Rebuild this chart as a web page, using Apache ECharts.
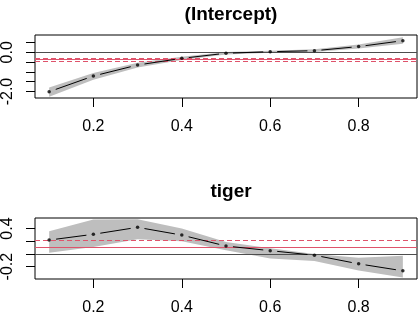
<!DOCTYPE html>
<html>
<head>
<meta charset="utf-8">
<script src="https://cdn.jsdelivr.net/npm/echarts@6/dist/echarts.min.js"></script>
<style>
html,body{margin:0;padding:0;background:#fff;}
#chart{width:418px;height:317px;}
</style>
</head>
<body>
<div id="chart"></div>
<script>
// quantiles
const taus = [0.1, 0.2, 0.3, 0.4, 0.5, 0.6, 0.7, 0.8, 0.9];
// (Intercept) panel
const interceptEst = [-2.01, -1.21, -0.65, -0.31, -0.05, 0.03, 0.08, 0.29, 0.59];
const interceptLo  = [-2.26, -1.40, -0.78, -0.40, -0.11, -0.02, 0.01, 0.19, 0.43];
const interceptHi  = [-1.79, -1.06, -0.53, -0.23, 0.01, 0.08, 0.15, 0.39, 0.76];
const interceptOls = [-0.375, -0.31, -0.44]; // estimate, lower, upper
// tiger panel
const tigerEst = [0.219, 0.31, 0.42, 0.297, 0.125, 0.052, -0.02, -0.156, -0.266];
const tigerLo  = [0.02, 0.11, 0.23, 0.20, 0.06, -0.07, -0.11, -0.26, -0.37];
const tigerHi  = [0.36, 0.545, 0.547, 0.40, 0.19, 0.09, 0.0, -0.06, -0.03];
const tigerOls = [0.10, -0.003, 0.215];
// tick values
const xTicks = [0.2, 0.4, 0.6, 0.8];
const yTicksTop = [-2, -1.5, -1, -0.5, 0, 0.5];
const yLabelsTop = [-2, 0];
const yTicksBot = [-0.2, 0, 0.2, 0.4];
const yLabelsBot = [-0.2, 0.4];
const titles = ['(Intercept)', 'tiger'];

const RED = '#DF536B';
const FONT = 'Liberation Sans, Arial, sans-serif';

function xAxis(gi) {
  return {
    type: 'value', gridIndex: gi, min: 0.068, max: 0.932,
    axisLine: {show: false, onZero: false},
    splitLine: {show: false},
    axisTick: {show: true, inside: false, length: 9, customValues: xTicks, lineStyle: {color: '#000', width: 1}},
    axisLabel: {show: true, customValues: xTicks, margin: 21, fontSize: 16, color: '#000', fontFamily: FONT,
      formatter: v => v.toFixed(1)}
  };
}
function yAxis(gi, min, max, ticks, labels) {
  return {
    type: 'value', gridIndex: gi, min: min, max: max,
    axisLine: {show: false, onZero: false},
    splitLine: {show: false},
    axisTick: {show: true, inside: false, length: 9, customValues: ticks, lineStyle: {color: '#000', width: 1}},
    axisLabel: {show: true, customValues: labels, rotate: 90, margin: 19, fontSize: 16, color: '#000', fontFamily: FONT,
      formatter: v => v.toFixed(1)}
  };
}

function bandRender(params, api) {
  if (params.dataIndexInside !== 0) return null;
  const n = params.dataInsideLength;
  const upper = [], lower = [];
  for (let i = 0; i < n; i++) {
    lower.push(api.coord([api.value(0, i), api.value(1, i)]));
    upper.push(api.coord([api.value(0, i), api.value(2, i)]));
  }
  return {
    type: 'polygon',
    shape: {points: lower.concat(upper.reverse())},
    style: {fill: '#BEBEBE', stroke: null}
  };
}

function segRender(params, api) {
  const p1 = api.coord([api.value(0), api.value(1)]);
  const p2 = api.coord([api.value(2), api.value(3)]);
  const dx = p2[0] - p1[0], dy = p2[1] - p1[1];
  const len = Math.sqrt(dx * dx + dy * dy);
  const gap = 7;
  if (len <= 2 * gap) return null;
  const ux = dx / len, uy = dy / len;
  return {
    type: 'line',
    shape: {x1: p1[0] + ux * gap, y1: p1[1] + uy * gap, x2: p2[0] - ux * gap, y2: p2[1] - uy * gap},
    style: {stroke: '#000', lineWidth: 1}
  };
}

function panelSeries(gi, est, lo, hi, ols) {
  const seg = [];
  for (let i = 0; i < taus.length - 1; i++) seg.push([taus[i], est[i], taus[i + 1], est[i + 1]]);
  return [
    {
      type: 'custom', xAxisIndex: gi, yAxisIndex: gi, silent: true, animation: false, z: 1,
      data: taus.map((t, i) => [t, lo[i], hi[i]]),
      encode: {x: 0, y: [1, 2]},
      renderItem: bandRender
    },
    {
      type: 'line', xAxisIndex: gi, yAxisIndex: gi, data: [], silent: true, z: 3, animation: false,
      markLine: {
        silent: true, symbol: 'none', animation: false, label: {show: false},
        data: [
          {yAxis: ols[0], lineStyle: {color: RED, type: 'solid', width: 1}},
          {yAxis: ols[1], lineStyle: {color: RED, type: [5, 3], width: 1}},
          {yAxis: ols[2], lineStyle: {color: RED, type: [5, 3], width: 1}}
        ]
      }
    },
    {
      type: 'line', xAxisIndex: gi, yAxisIndex: gi, data: [], silent: true, z: 4, animation: false,
      markLine: {
        silent: true, symbol: 'none', animation: false, label: {show: false},
        data: [{yAxis: 0, lineStyle: {color: '#4D4D4D', type: 'solid', width: 1}}]
      }
    },
    {
      type: 'custom', xAxisIndex: gi, yAxisIndex: gi, data: seg, renderItem: segRender,
      encode: {x: [0, 2], y: [1, 3]}, z: 5, silent: true, animation: false
    },
    {
      type: 'scatter', xAxisIndex: gi, yAxisIndex: gi, data: taus.map((t, i) => [t, est[i]]),
      symbol: 'circle', symbolSize: 3.5, itemStyle: {color: '#000'}, z: 6, silent: true, animation: false
    }
  ];
}

const chart = echarts.init(document.getElementById('chart'), null, {renderer: 'canvas'});
chart.setOption({
  backgroundColor: '#fff',
  animation: false,
  title: [
    {text: titles[0], left: 226, top: 0, textAlign: 'center',
      textStyle: {fontSize: 19, fontWeight: 'bold', color: '#000', fontFamily: FONT}},
    {text: titles[1], left: 226, top: 177, textAlign: 'center',
      textStyle: {fontSize: 19, fontWeight: 'bold', color: '#000', fontFamily: FONT}}
  ],
  grid: [
    {left: 35, right: 1, top: 35, height: 63, show: true, borderColor: '#000', borderWidth: 1, backgroundColor: 'transparent', containLabel: false, outerBoundsMode: 'none'},
    {left: 35, right: 1, top: 218, height: 61, show: true, borderColor: '#000', borderWidth: 1, backgroundColor: 'transparent', containLabel: false, outerBoundsMode: 'none'}
  ],
  xAxis: [xAxis(0), xAxis(1)],
  yAxis: [
    yAxis(0, -2.33, 0.88, yTicksTop, yLabelsTop),
    yAxis(1, -0.395, 0.567, yTicksBot, yLabelsBot)
  ],
  series: [].concat(
    panelSeries(0, interceptEst, interceptLo, interceptHi, interceptOls),
    panelSeries(1, tigerEst, tigerLo, tigerHi, tigerOls)
  )
});
</script>
</body>
</html>
